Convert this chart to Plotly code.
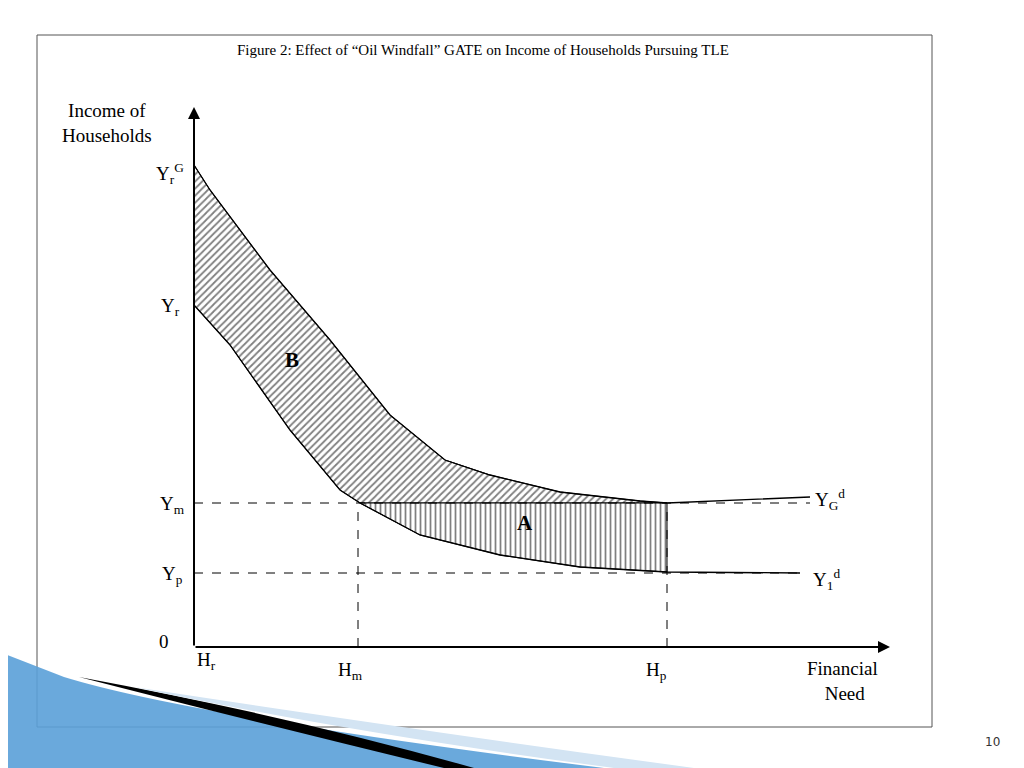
import numpy as np
import plotly.graph_objects as go

# curve points (x = financial need, y = income), arbitrary units
upper_x = [0, 16, 76, 136, 196, 251, 296, 366, 446, 473, 616]
upper_y = [482, 457, 377, 307, 232, 187, 172, 155, 146, 144, 150]
lower_x = [0, 36, 96, 146, 166, 226, 306, 386, 473, 606]
lower_y = [342, 302, 217, 157, 144, 112, 92, 80, 75, 74]

y_m, y_p = 144, 74
h_m, h_p = 164, 473

fig = go.Figure()

# region B: between upper curve and max(lower curve, Ym)
bx = upper_x[:10] + [h_p, 166, 146, 96, 36, 0]
by = upper_y[:10] + [y_m, y_m, 157, 217, 302, 342]
fig.add_trace(go.Scatter(x=bx, y=by, fill="toself", mode="lines",
                         line=dict(color="black", width=1),
                         fillpattern=dict(shape="/", size=5, solidity=0.35,
                                          fgcolor="black", bgcolor="white"),
                         fillcolor="white", hoverinfo="skip"))
# region A: between Ym and lower curve
ax = [166, h_p, h_p, 386, 306, 226, 166]
ay = [y_m, y_m, 75, 80, 92, 112, y_m]
fig.add_trace(go.Scatter(x=ax, y=ay, fill="toself", mode="lines",
                         line=dict(color="black", width=1),
                         fillpattern=dict(shape="|", size=5, solidity=0.35,
                                          fgcolor="black", bgcolor="white"),
                         fillcolor="white", hoverinfo="skip"))
fig.add_trace(go.Scatter(x=upper_x, y=upper_y, mode="lines",
                         line=dict(color="black", width=1.3)))
fig.add_trace(go.Scatter(x=lower_x, y=lower_y, mode="lines",
                         line=dict(color="black", width=1.3)))

dash = dict(color="black", width=1, dash="dash")
fig.add_shape(type="line", x0=0, x1=616, y0=y_m, y1=y_m, line=dash)
fig.add_shape(type="line", x0=0, x1=606, y0=y_p, y1=y_p, line=dash)
fig.add_shape(type="line", x0=h_m, x1=h_m, y0=0, y1=y_m, line=dash)
fig.add_shape(type="line", x0=h_p, x1=h_p, y0=0, y1=y_m, line=dash)

# axes with arrows
for tx, ty in [(0, 540), (696, 0)]:
    fig.add_annotation(x=tx, y=ty, ax=0, ay=0, axref="x", ayref="y", xref="x", yref="y",
                       showarrow=True, arrowhead=2, arrowsize=1.2, arrowwidth=2,
                       arrowcolor="black", text="")

# frame
fig.add_shape(type="rect", x0=-157, x1=738, y0=-80, y1=612,
              line=dict(color="#555", width=1))

# decorative swoosh
fig.add_shape(type="path", path="M -194,-5 L -194,-121 L 410,-121 Q 0,-70 -130,-30 Z",
              fillcolor="#5aa0d8", line=dict(width=0), opacity=0.9)
fig.add_shape(type="path", path="M -115,-30 Q 100,-70 280,-121 L 250,-121 Q 60,-75 -115,-30 Z",
              fillcolor="black", line=dict(width=0))
fig.add_shape(type="path", path="M -60,-40 Q 200,-80 500,-121 L 420,-121 Q 150,-85 -60,-40 Z",
              fillcolor="#d3e4f3", line=dict(width=0))

f = dict(family="Liberation Serif", size=19, color="black")
def lab(x, y, t, size=19, xa="center"):
    fig.add_annotation(x=x, y=y, text=t, showarrow=False, xanchor=xa,
                       font=dict(f, size=size))

lab(-134, 524, "Income of<br>Households", xa="left")
lab(-24, 474, "Y<sub>r</sub><sup>G</sup>")
lab(-24, 340, "Y<sub>r</sub>")
lab(-22, 142, "Y<sub>m</sub>")
lab(-22, 72, "Y<sub>p</sub>")
lab(-30, 6, "0")
lab(12, -14, "H<sub>r</sub>")
lab(156, -24, "H<sub>m</sub>")
lab(462, -24, "H<sub>p</sub>")
lab(648, -34, "Financial<br> Need")
lab(636, 148, "Y<sub>G</sub><sup>d</sup>")
lab(632, 68, "Y<sub>1</sub><sup>d</sup>")
lab(98, 287, "<b>B</b>", size=21)
lab(331, 124, "<b>A</b>", size=21)
lab(289, 597, "Figure 2: Effect of “Oil Windfall” GATE on Income of Households Pursuing TLE", size=15)
fig.add_annotation(x=798, y=-95, text="10", showarrow=False,
                   font=dict(family="DejaVu Sans", size=12, color="#333"))

fig.update_layout(width=1024, height=768, margin=dict(l=0, r=0, t=0, b=0),
                  plot_bgcolor="white", paper_bgcolor="white", showlegend=False,
                  xaxis=dict(range=[-186, 838], visible=False),
                  yaxis=dict(range=[-129, 639], visible=False))
fig.write_html("out.html")
